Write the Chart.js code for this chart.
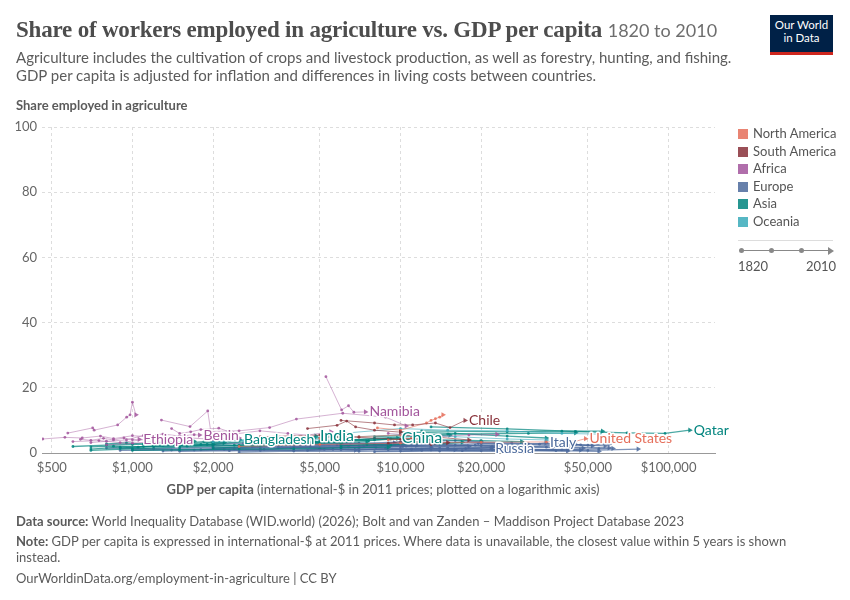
<!DOCTYPE html>
<html>
<head>
<meta charset="utf-8">
<script src="https://cdn.jsdelivr.net/npm/chart.js@4.4.1/dist/chart.umd.min.js"></script>
<style>
  body { margin: 0; background: #fff; font-family: Lato, "Noto Sans", sans-serif; }
  #page { position: relative; width: 850px; height: 600px; overflow: hidden; }
  #page div { position: absolute; white-space: nowrap; }
  .title { left: 16px; top: 16px; line-height: 28px; font-family: "Liberation Serif", serif; font-weight: bold; font-size: 23px; color: #4d4d4d; letter-spacing: -0.2px; }
  .title span { font-family: Lato, sans-serif; font-weight: normal; font-size: 18px; color: #6e6e6e; letter-spacing: 0; }
  .sub { left: 16px; top: 48px; line-height: 18px; font-size: 15px; color: #5b5b5b; }
  .logo { left: 770px; top: 15px; width: 63px; height: 34px; background: #002147; border-bottom: 3px solid #ce261e; color: #fff; font-size: 11.5px; line-height: 13px; text-align: center; padding-top: 3px; box-sizing: content-box; }
  .ytitle { left: 16px; top: 97px; font-size: 13px; font-weight: bold; color: #5b5b5b; }
  .xtitle { left: 0; width: 766px; top: 481px; text-align: center; font-size: 13px; color: #5b5b5b; }
  .foot { left: 16px; font-size: 13px; color: #5b5b5b; line-height: 16px; }
  .leg { left: 738px; font-size: 13px; color: #555; line-height: 16px; }
  .sw { display: inline-block; width: 10px; height: 10px; margin-right: 5px; vertical-align: -1px; opacity: 0.85; }
</style>
</head>
<body>
<div id="page">
  <canvas id="chart" width="850" height="600" style="position:absolute;left:0;top:0"></canvas>
  <div class="title">Share of workers employed in agriculture vs. GDP per capita <span>1820 to 2010</span></div>
  <div class="sub">Agriculture includes the cultivation of crops and livestock production, as well as forestry, hunting, and fishing.<br>GDP per capita is adjusted for inflation and differences in living costs between countries.</div>
  <div class="logo">Our World<br>in Data</div>
  <div class="ytitle">Share employed in agriculture</div>
  <div class="xtitle"><b>GDP per capita</b> (international-$ in 2011 prices; plotted on a logarithmic axis)</div>
  <div id="legend"></div>
  <div class="foot" style="top:513px"><b>Data source:</b> World Inequality Database (WID.world) (2026); Bolt and van Zanden – Maddison Project Database 2023</div>
  <div class="foot" style="top:533px"><b>Note:</b> GDP per capita is expressed in international-$ at 2011 prices. Where data is unavailable, the closest value within 5 years is shown<br>instead.</div>
  <div class="foot" style="top:570px">OurWorldinData.org/employment-in-agriculture | CC BY</div>
  <div style="left:738px;top:240px;width:95px;height:1px;background:#ddd"></div>
  <div style="left:741px;top:250px;width:88px;height:1px;background:#888"></div>
  <div style="left:739px;top:248px;width:5px;height:5px;border-radius:50%;background:#888"></div>
  <div style="left:769px;top:248px;width:5px;height:5px;border-radius:50%;background:#888"></div>
  <div style="left:799px;top:248px;width:5px;height:5px;border-radius:50%;background:#888"></div>
  <div style="left:828px;top:247px;width:0;height:0;border-top:4px solid transparent;border-bottom:4px solid transparent;border-left:6px solid #888"></div>
  <div class="leg" style="top:258px">1820</div>
  <div class="leg" style="top:258px;left:806px">2010</div>
</div>
<script>
// Axis ticks
const xTicks = [500, 1000, 2000, 5000, 10000, 20000, 50000, 100000];
const yTicks = [0, 20, 40, 60, 80, 100];

// Regions and colours
const regions = ["North America", "South America", "Africa", "Europe", "Asia", "Oceania"];
const regionColors = ["#E56E5A", "#883039", "#A2559C", "#4C6A9C", "#00847E", "#38AABA"];

// Trajectories: [GDP per capita, share employed in agriculture %]
const ethiopia = [[640, 4.2], [700, 3.9], [780, 4.5], [850, 4.0], [930, 4.6], [1000, 4.1], [1060, 4.2]];
const benin = [[700, 3.2], [800, 3.6], [950, 4.0], [1100, 5.4], [1300, 5.8], [1500, 5.2], [1700, 5.6], [1780, 5.5]];
const namibia = [[5270, 23.4], [6030, 13.2], [6400, 14.5], [6700, 12.5], [7400, 12.6]];
const africaA = [[574, 6.1], [711, 7.7], [720, 7.0], [881, 8.6], [952, 11], [980, 11.7], [1000, 15.6], [1030, 11.7]];
const africaB = [[463, 4.3], [560, 4.8], [650, 4.6], [760, 5.2], [850, 4.4], [1000, 5.3], [1150, 5.0]];
const africaC = [[1283, 10.1], [1640, 8.1], [1910, 12.9], [1960, 6.6], [2500, 6.8], [3250, 7.8], [4090, 10.4], [6090, 12.2], [8800, 11.0], [10500, 8.3]];
const africaD = [[1400, 7.5], [1500, 6.0], [1650, 6.5], [1800, 7.2], [2100, 7.6], [2400, 6.0]];
const africaE = [[2000, 5.0], [2990, 6.8], [3800, 6.0], [4500, 5.5], [5500, 6.5]];
const africaF = [[800, 2.5], [1000, 3.0], [1200, 3.5], [1400, 3.0]];
const africaG = [[9000, 6.0], [13000, 5.0], [18000, 5.5], [22900, 5.7]];
const africaH = [[600, 3.5], [750, 3.8], [900, 3.2], [1200, 4.5], [1500, 4.8], [2000, 4.2], [2500, 4.6]];

const bangladesh = [[900, 1.5], [1100, 2.0], [1300, 2.5], [1600, 2.8], [2000, 3.3], [2300, 3.7], [2520, 4.0]];
const india = [[700, 1.2], [900, 1.8], [1200, 2.0], [1800, 2.6], [2700, 3.5], [3500, 4.0], [4300, 4.4], [4840, 5.2]];
const china = [[700, 0.8], [1000, 1.3], [1500, 1.8], [2500, 2.3], [4000, 3.0], [6000, 3.6], [8000, 4.0], [9770, 4.5]];
const qatar = [[13000, 8.0], [25000, 7.4], [45000, 6.6], [70000, 6.2], [97000, 6.0], [120000, 7.0]];
const asiaA = [[600, 2.0], [800, 2.4], [1000, 2.6], [1300, 3.2], [1700, 3.6]];
const asiaB = [[3000, 2.5], [5000, 3.2], [8000, 4.5], [12000, 5.2], [15300, 5.5]];
const asiaC = [[5000, 3.8], [9000, 4.4], [14000, 4.0], [20000, 3.8], [28300, 3.5]];
const asiaD = [[10000, 6.5], [16000, 6.0], [25000, 5.2], [35000, 4.6]];
const asiaE = [[8000, 5.0], [15000, 5.8], [30000, 6.0], [45000, 6.2]];
const asiaF = [[12000, 6.8], [25000, 6.5], [40000, 6.7], [56700, 6.7]];
const asiaG = [[1000, 0.8], [1500, 1.0], [2500, 1.2], [4000, 1.3], [6000, 1.6], [9000, 1.8]];
const asiaH = [[2000, 1.5], [3000, 2.2], [4500, 2.8], [6000, 3.2], [7500, 3.5]];
const asiaI = [[4000, 4.0], [4800, 4.6], [5500, 5.0], [6500, 4.6]];
const asiaJ = [[800, 2.8], [950, 3.1], [1100, 2.7], [1300, 3.3], [1550, 3.0], [1850, 3.5], [2200, 3.2]];
const asiaK = [[1500, 2.2], [1900, 2.6], [2400, 2.4], [3000, 2.9], [3800, 2.7], [4800, 3.4], [6000, 3.1]];
const asiaL = [[3500, 3.3], [4300, 3.7], [5200, 3.4], [6300, 4.1], [7600, 3.8], [9200, 4.3], [11000, 4.0]];
const asiaM = [[700, 1.9], [850, 2.1], [1050, 1.8], [1300, 2.3], [1600, 2.1], [2000, 2.6]];
const asiaN = [[6000, 2.2], [7500, 2.6], [9200, 2.4], [11500, 3.0], [14000, 2.8], [17000, 3.3]];

const russia = [[1000, 1.0], [1500, 1.2], [3000, 1.5], [6000, 1.8], [10000, 1.5], [15000, 1.4], [21800, 1.5]];
const italy = [[2000, 1.5], [4000, 2.0], [10000, 2.5], [20000, 2.2], [30000, 2.5], [34900, 3.1]];
const europeA = [[1500, 0.5], [3000, 0.8], [6000, 1.0], [12000, 1.2], [25000, 1.0], [50000, 0.8], [77000, 1.2]];
const europeB = [[800, 1.5], [1200, 1.3], [2000, 1.8], [3500, 1.6], [6000, 2.0], [10000, 2.3], [18000, 2.0]];
const europeC = [[3000, 2.8], [5000, 2.5], [8000, 2.2], [14000, 2.6], [22000, 2.0], [35000, 1.8], [48000, 1.5]];
const europeD = [[2500, 0.3], [4000, 0.6], [7000, 0.5], [12000, 0.8], [20000, 0.7], [30000, 0.9], [42000, 0.6]];
const europeE = [[5000, 1.2], [9000, 1.0], [15000, 1.6], [25000, 1.8], [40000, 1.9], [60000, 1.6]];
const europeF = [[1200, 2.0], [2000, 2.4], [3000, 2.1], [5000, 2.7], [7000, 3.0], [10000, 2.8], [14000, 3.2]];
const europeG = [[6000, 2.6], [10000, 3.4], [15000, 3.0], [20000, 3.3], [30000, 2.8], [45000, 2.6], [52000, 2.2]];
const europeH = [[900, 0.8], [1400, 0.9], [2200, 1.1], [4000, 0.9], [7000, 1.3], [11000, 1.1], [16000, 1.0]];
const europeI = [[3500, 1.8], [6000, 1.5], [9000, 2.1], [13000, 1.9], [19000, 2.4], [24000, 2.1]];
const europeJ = [[8000, 0.4], [14000, 0.6], [24000, 0.5], [38000, 0.7], [55000, 0.5]];
const europeK = [[30000, 2.0], [40000, 2.5], [50000, 2.4], [60000, 2.7]];
const europeL = [[4000, 2.2], [6000, 2.9], [9000, 2.6], [12000, 3.6], [16000, 3.8], [20000, 3.4]];
const europeM = [[15000, 1.3], [25000, 1.2], [40000, 1.0], [55000, 1.3], [62000, 1.4]];
const europeN = [[2000, 2.8], [2600, 3.0], [3300, 2.6], [4200, 2.9], [5200, 3.3], [6500, 3.0], [8000, 2.7], [9500, 3.1]];
const europeO = [[1800, 1.0], [2400, 1.3], [3100, 1.1], [3900, 1.6], [5000, 1.4], [6400, 1.9], [8100, 1.7], [10200, 2.0], [13000, 1.8]];
const europeP = [[4500, 0.8], [5600, 1.1], [7000, 0.9], [8800, 1.4], [11000, 1.2], [14000, 1.5], [17500, 1.3], [22000, 1.7], [27000, 1.4]];
const europeQ = [[7000, 2.0], [8500, 2.4], [10500, 2.1], [13000, 2.7], [16000, 2.4], [19500, 2.9], [24000, 2.6], [29000, 2.3]];
const europeR = [[2800, 1.9], [3600, 2.3], [4600, 2.0], [5800, 2.5], [7300, 2.2], [9200, 2.6], [11500, 2.3]];
const europeS = [[10000, 0.6], [13000, 0.9], [17000, 0.7], [22000, 1.0], [29000, 0.8], [37000, 1.1], [47000, 0.9]];
const europeT = [[1300, 0.6], [1700, 0.9], [2300, 0.7], [3000, 1.0], [4000, 0.8], [5200, 1.1], [6800, 0.9]];
const europeU = [[20000, 2.8], [26000, 3.1], [33000, 2.7], [40000, 3.0], [47000, 2.5], [58000, 2.2]];

const unitedStates = [[2500, 2.0], [5000, 2.6], [10000, 3.0], [20000, 3.3], [35000, 3.4], [45000, 3.6], [49000, 4.4]];
const northAmA = [[8200, 7.7], [10000, 7.0], [12500, 9.2], [13000, 10.0], [13500, 10.5], [14000, 11.0], [14400, 11.7]];
const northAmB = [[5000, 4.5], [7000, 5.0], [10000, 5.5], [14000, 5.0]];
const northAmC = [[9000, 4.0], [11000, 4.5], [12500, 3.8], [14000, 4.2]];

const chile = [[6000, 10.0], [8000, 9.2], [9500, 8.6], [11100, 8.6], [13500, 9.2], [15300, 7.8], [17400, 10.0]];
const southAmA = [[4500, 7.5], [5800, 8.5], [6300, 9.8], [6800, 8.0], [8000, 7.0], [10000, 6.4]];
const southAmB = [[3000, 5.0], [5000, 5.5], [7000, 4.8], [10000, 4.2], [14000, 4.8], [18000, 4.0]];
const southAmC = [[9000, 3.0], [11000, 3.8], [13000, 2.6], [15000, 3.2]];

const oceaniaA = [[6000, 6.0], [10000, 7.5], [15000, 7.0], [25000, 6.8], [40000, 6.0], [55000, 5.8]];
const oceaniaB = [[4500, 4.5], [7000, 5.0], [10000, 5.6], [16000, 5.0], [25000, 4.3], [35000, 4.0]];
const oceaniaC = [[2000, 3.4], [2600, 3.8], [3400, 3.6], [4400, 4.2], [5600, 3.9]];

// Series table: region index, label shown at end of line ("" for none)
const series = [
  [2, "Ethiopia", ethiopia], [2, "Benin", benin], [2, "Namibia", namibia],
  [2, "", africaA], [2, "", africaB], [2, "", africaC], [2, "", africaD],
  [2, "", africaE], [2, "", africaF], [2, "", africaG], [2, "", africaH],
  [1, "Chile", chile], [1, "", southAmA], [1, "", southAmB], [1, "", southAmC],
  [0, "United States", unitedStates], [0, "", northAmA], [0, "", northAmB], [0, "", northAmC],
  [5, "", oceaniaA], [5, "", oceaniaB], [5, "", oceaniaC],
  [4, "Bangladesh", bangladesh], [4, "India", india], [4, "China", china], [4, "Qatar", qatar],
  [4, "", asiaA], [4, "", asiaB], [4, "", asiaC], [4, "", asiaD], [4, "", asiaE],
  [4, "", asiaF], [4, "", asiaG], [4, "", asiaH], [4, "", asiaI], [4, "", asiaJ],
  [4, "", asiaK], [4, "", asiaL], [4, "", asiaM], [4, "", asiaN],
  [3, "Russia", russia], [3, "Italy", italy], [3, "", europeA], [3, "", europeB],
  [3, "", europeC], [3, "", europeD], [3, "", europeE], [3, "", europeF], [3, "", europeG],
  [3, "", europeH], [3, "", europeI], [3, "", europeJ], [3, "", europeK], [3, "", europeL],
  [3, "", europeM], [3, "", europeN], [3, "", europeO], [3, "", europeP], [3, "", europeQ],
  [3, "", europeR], [3, "", europeS], [3, "", europeT], [3, "", europeU]
];
const bigLabels = ["India", "China"];

// Legend
const legendEl = document.getElementById("legend");
regions.forEach((r, i) => {
  const d = document.createElement("div");
  d.className = "leg";
  d.style.top = (125 + i * 17.6) + "px";
  d.innerHTML = `<span class="sw" style="background:${regionColors[i]}"></span>${r}`;
  legendEl.appendChild(d);
});

function alpha(hex, a) {
  const n = parseInt(hex.slice(1), 16);
  return `rgba(${n >> 16},${(n >> 8) & 255},${n & 255},${a})`;
}

const datasets = series.map(([reg, label, pts]) => {
  const col = regionColors[reg];
  const last = pts.length - 1;
  const dense = reg === 3 || reg === 4;
  return {
    label: label,
    data: pts.map(([x, y]) => ({ x, y })),
    borderColor: alpha(col, reg === 2 ? 0.45 : (dense ? 0.7 : 0.6)),
    backgroundColor: alpha(col, 0.85),
    borderWidth: dense ? 1.3 : 1,
    pointBorderWidth: 0,
    pointRadius: pts.map((p, i) => i === last ? 3 : 1.4),
    pointStyle: pts.map((p, i) => i === last ? "triangle" : "circle"),
    pointRotation: pts.map((p, i) => i === last ? 90 : 0),
    tension: 0,
    regionColor: col
  };
});

// Draw country names at the end of their line
const endLabels = {
  id: "endLabels",
  afterDatasetsDraw(chart) {
    const ctx = chart.ctx;
    chart.data.datasets.forEach((ds, i) => {
      if (!ds.label) return;
      const pts = chart.getDatasetMeta(i).data;
      const p = pts[pts.length - 1];
      const size = bigLabels.includes(ds.label) ? 16 : 14;
      ctx.save();
      ctx.font = `${size}px Lato`;
      ctx.textBaseline = "middle";
      ctx.lineJoin = "round";
      ctx.strokeStyle = "#fff";
      ctx.lineWidth = 3;
      ctx.strokeText(ds.label, p.x + 4, p.y);
      ctx.fillStyle = ds.regionColor;
      ctx.fillText(ds.label, p.x + 4, p.y);
      ctx.restore();
    });
  }
};

new Chart(document.getElementById("chart"), {
  type: "line",
  data: { datasets: datasets },
  options: {
    responsive: false,
    animation: false,
    layout: { padding: { top: 127, right: 135, bottom: 117, left: 0 } },
    plugins: { legend: { display: false }, tooltip: { enabled: false } },
    scales: {
      x: {
        type: "logarithmic",
        min: 460,
        max: 149000,
        afterBuildTicks: s => { s.ticks = xTicks.map(v => ({ value: v })); },
        afterFit: s => { s.height = 30; },
        ticks: {
          callback: v => "$" + Number(v).toLocaleString("en-US"),
          color: "#666",
          font: { family: "Lato", size: 13 },
          padding: 7,
          autoSkip: false,
          maxRotation: 0
        },
        grid: { color: "#ddd", drawTicks: false },
        border: { display: true, color: "#999", dash: [3, 3] }
      },
      y: {
        min: 0,
        max: 100,
        afterBuildTicks: s => { s.ticks = yTicks.map(v => ({ value: v })); },
        afterFit: s => { s.width = 42; },
        ticks: { color: "#666", font: { family: "Lato", size: 13 }, padding: 5 },
        grid: { color: "#ddd", drawTicks: false },
        border: { display: false, dash: [3, 3] }
      }
    }
  },
  plugins: [endLabels]
});
</script>
</body>
</html>
